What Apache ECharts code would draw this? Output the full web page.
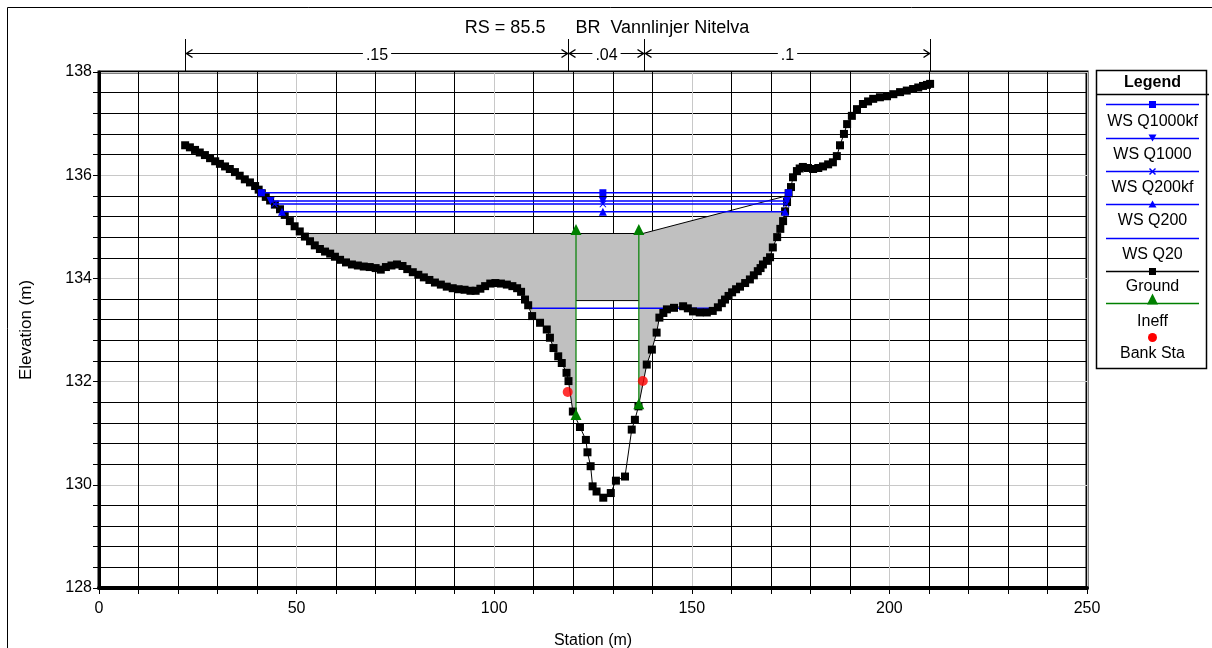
<!DOCTYPE html>
<html>
<head>
<meta charset="utf-8">
<script src="https://cdn.jsdelivr.net/npm/echarts@6.0.0/dist/echarts.min.js"></script>
<style>
  html, body { margin: 0; padding: 0; background: #fff; }
  #chart { width: 1212px; height: 648px; }
</style>
</head>
<body>
<div id="chart"></div>
<script>
// ---- Cross section data (station m, elevation m) ----
const groundStation = [
  21.8, 23.0, 24.3, 25.5, 26.8, 28.1, 29.4, 30.6, 31.9, 33.1, 34.4, 35.6, 36.9, 38.2, 39.5,
  40.4, 41.2, 42.2, 43.3, 44.5, 45.8, 47.0, 48.3, 49.5, 50.8, 52.1, 53.4, 54.6, 55.9, 57.2,
  58.5, 59.7, 61.0, 62.5, 64.0, 65.5, 67.0, 68.5, 70.0, 71.3, 72.6, 74.0, 75.4, 76.8, 78.0,
  79.4, 80.8, 82.2, 83.6, 85.0, 86.5, 88.0, 89.5, 91.0, 92.5, 94.0, 95.3, 96.5, 97.7, 99.0,
  100.3, 101.7, 103.2, 104.6, 105.8, 106.8, 107.8, 108.6, 109.6, 111.6, 113.3, 114.1, 115.0, 116.2, 117.1,
  118.3, 118.8, 119.9, 121.7, 123.2, 123.6, 124.4, 124.9, 125.9, 127.6, 129.5, 130.8, 133.1, 134.8, 135.6,
  136.5, 138.6, 139.9, 141.1, 141.8, 142.8, 143.7, 145.5, 147.8, 149.0, 150.3, 152.0, 153.8, 155.3, 156.6,
  157.6, 158.4, 159.3, 160.2, 161.2, 162.2, 163.5, 164.7, 165.7, 166.7, 167.4, 168.0, 169.0, 169.8, 170.5,
  171.6, 172.4, 173.1, 173.6, 174.1, 174.5, 175.1, 175.6, 176.6, 177.3, 178.1, 179.4, 180.7, 182.0, 183.2,
  184.5, 185.7, 186.7, 187.5, 188.5, 189.3, 190.5, 191.8, 193.3, 194.6, 195.9, 197.6, 199.4, 201.0, 202.7,
  204.4, 206.0, 207.3, 208.5, 209.5, 210.3
];
const groundElev = [
  136.58, 136.54, 136.49, 136.44, 136.39, 136.33, 136.27, 136.22, 136.17, 136.12, 136.06, 135.99, 135.92, 135.86, 135.79,
  135.72, 135.65, 135.58, 135.51, 135.43, 135.34, 135.23, 135.11, 135.01, 134.91, 134.81, 134.72, 134.64, 134.57, 134.52,
  134.48, 134.42, 134.36, 134.31, 134.27, 134.25, 134.23, 134.22, 134.20, 134.17, 134.22, 134.25, 134.27, 134.24, 134.18,
  134.12, 134.07, 134.02, 133.97, 133.92, 133.88, 133.84, 133.81, 133.79, 133.78, 133.76, 133.76, 133.80, 133.85, 133.90,
  133.91, 133.90, 133.88, 133.85, 133.81, 133.74, 133.59, 133.48, 133.27, 133.14, 133.01, 132.85, 132.65, 132.49, 132.36,
  132.17, 132.01, 131.42, 131.12, 130.87, 130.63, 130.36, 129.97, 129.87, 129.75, 129.84, 130.08, 130.16, 131.07, 131.26,
  131.52, 132.33, 132.62, 132.95, 133.24, 133.33, 133.40, 133.43, 133.46, 133.42, 133.36, 133.34, 133.34, 133.37, 133.44,
  133.52, 133.59, 133.66, 133.73, 133.79, 133.84, 133.91, 133.98, 134.06, 134.14, 134.20, 134.27, 134.34, 134.41, 134.60,
  134.80, 134.96, 135.11, 135.30, 135.48, 135.65, 135.77, 135.96, 136.08, 136.13, 136.16, 136.14, 136.12, 136.14, 136.17,
  136.21, 136.25, 136.37, 136.58, 136.80, 136.99, 137.15, 137.28, 137.38, 137.43, 137.48, 137.51, 137.53, 137.57, 137.61,
  137.64, 137.67, 137.70, 137.73, 137.75, 137.77
];

// Water surface profiles
const wsNames = ['WS Q1000kf', 'WS Q1000', 'WS Q200kf', 'WS Q200'];
const wsElev = [135.66, 135.50, 135.44, 135.29];
const wsLeftStation = [41.1, 43.4, 44.4, 46.3];
const wsRightStation = [174.5, 174.1, 173.9, 173.6];
const wsMidStation = 127.5;
const wsQ20Station = [109.5, 156.4];
const wsQ20Elev = 133.42;

// Bridge deck / low chord
const deckStation = [51.0, 137.6, 174.0];
const deckElev = [134.87, 134.87, 135.60];
const fillTopStation = [51.0, 137.6, 158.5, 173.3];
const fillTopElev = [134.87, 134.87, 135.29, 135.29];
const lowChordStation = [120.7, 136.6];
const lowChordElev = 133.57;

// Ineffective flow markers and bank stations
const ineffStation = [120.7, 136.6];
const ineffLowElev = [131.36, 131.57];
const ineffHighElev = 134.95;
const bankStation = [118.6, 137.6];
const bankElev = [131.80, 132.01];

// Manning's n regions
const nBreakStation = [21.8, 118.6, 137.9, 210.3];
const nValues = ['.15', '.04', '.1'];

const titleText = 'RS = 85.5      BR  Vannlinjer Nitelva';
const legendNames = ['WS Q1000kf', 'WS Q1000', 'WS Q200kf', 'WS Q200', 'WS Q20', 'Ground', 'Ineff', 'Bank Sta'];

// ---- helpers ----
const FONT = "'Liberation Sans', Arial, sans-serif";
const BLUE = '#0000ff';
const GREEN = '#008000';
const XPATH = 'path://M0,1L1,0L5,4L9,0L10,1L6,5L10,9L9,10L5,6L1,10L0,9L4,5Z';

const ground = groundStation.map((s, i) => [s, groundElev[i]]);
function groundAt(s) {
  for (let i = 1; i < groundStation.length; i++) {
    if (groundStation[i] >= s) {
      const s0 = groundStation[i - 1], s1 = groundStation[i];
      const t = (s - s0) / (s1 - s0);
      return groundElev[i - 1] + t * (groundElev[i] - groundElev[i - 1]);
    }
  }
  return groundElev[groundElev.length - 1];
}

// Bridge fill outline: deck top, down the right bank, under the low chord, down the left bank
const bridgePoly = [];
fillTopStation.forEach((s, i) => bridgePoly.push([s, fillTopElev[i]]));
const topRight = fillTopStation[fillTopStation.length - 1];
for (let i = ground.length - 1; i >= 0; i--) {
  if (ground[i][0] < topRight && ground[i][0] > lowChordStation[1]) bridgePoly.push(ground[i]);
}
bridgePoly.push([lowChordStation[1], groundAt(lowChordStation[1])]);
bridgePoly.push([lowChordStation[1], lowChordElev]);
bridgePoly.push([lowChordStation[0], lowChordElev]);
bridgePoly.push([lowChordStation[0], groundAt(lowChordStation[0])]);
for (let i = ground.length - 1; i >= 0; i--) {
  if (ground[i][0] < lowChordStation[0] && ground[i][0] > fillTopStation[0]) bridgePoly.push(ground[i]);
}

const wsSymbols = [
  { symbol: 'rect', size: 7, rotate: 0 },
  { symbol: 'triangle', size: 8, rotate: 180 },
  { symbol: XPATH, size: 7, rotate: 0 },
  { symbol: 'triangle', size: 8, rotate: 0 }
];

const series = [];
series.push({
  name: 'Bridge',
  type: 'custom',
  coordinateSystem: 'cartesian2d',
  data: [[0, 128]],
  z: 1,
  silent: true,
  renderItem: function (params, api) {
    return {
      type: 'polygon',
      shape: { points: bridgePoly.map(p => api.coord(p)) },
      style: { fill: '#c0c0c0', stroke: null }
    };
  }
});
series.push({
  name: 'Deck', type: 'line', z: 2, symbol: 'none', silent: true,
  data: deckStation.map((s, i) => [s, deckElev[i]]),
  lineStyle: { color: '#000', width: 1 }
});
series.push({
  name: 'Low chord', type: 'line', z: 2, symbol: 'none', silent: true,
  data: lowChordStation.map(s => [s, lowChordElev]),
  lineStyle: { color: '#000', width: 1 }
});
series.push({
  name: 'WS Q20', type: 'line', z: 3, symbol: 'none',
  data: wsQ20Station.map(s => [s, wsQ20Elev]),
  lineStyle: { color: BLUE, width: 1.5 }
});
series.push({
  name: 'Ground', type: 'line', z: 4, symbol: 'rect', symbolSize: 8, showAllSymbol: true,
  data: ground,
  itemStyle: { color: '#000' },
  lineStyle: { color: '#000', width: 1 }
});
wsNames.forEach((name, i) => {
  series.push({
    name: name, type: 'line', z: 5,
    symbol: wsSymbols[i].symbol, symbolSize: wsSymbols[i].size, symbolRotate: wsSymbols[i].rotate,
    showAllSymbol: true,
    data: [[wsLeftStation[i], wsElev[i]], [wsMidStation, wsElev[i]], [wsRightStation[i], wsElev[i]]],
    itemStyle: { color: BLUE },
    lineStyle: { color: BLUE, width: 1.5 }
  });
});
ineffStation.forEach((s, i) => {
  series.push({
    name: 'Ineff', type: 'line', z: 6, symbol: 'triangle', symbolSize: [11, 11],
    data: [[s, ineffLowElev[i]], [s, ineffHighElev]],
    itemStyle: { color: GREEN },
    lineStyle: { color: GREEN, width: 1.2 }
  });
});
series.push({
  name: 'Bank Sta', type: 'scatter', z: 7, symbol: 'circle', symbolSize: 10,
  data: bankStation.map((s, i) => [s, bankElev[i]]),
  itemStyle: { color: '#ff0000' }
});

const chart = echarts.init(document.getElementById('chart'), null, { renderer: 'canvas' });

chart.setOption({
  animation: false,
  backgroundColor: '#fff',
  grid: {
    left: 99, top: 72, width: 988, height: 516,
    outerBoundsMode: 'none', containLabel: false,
    show: true, borderColor: '#000', borderWidth: 3, backgroundColor: 'transparent'
  },
  xAxis: {
    type: 'value', min: 0, max: 250, interval: 10,
    name: 'Station (m)', nameLocation: 'middle', nameGap: 45,
    nameTextStyle: { fontFamily: FONT, fontSize: 16, color: '#000' },
    axisLine: { show: true, onZero: false, lineStyle: { color: '#000', width: 4 } },
    axisTick: { show: true, length: 6, lineStyle: { color: '#000', width: 1 } },
    axisLabel: {
      margin: 13, fontFamily: FONT, fontSize: 16, color: '#000',
      formatter: v => (Math.round(v) % 50 === 0 ? String(Math.round(v)) : '')
    },
    splitLine: { show: true, interval: 0, lineStyle: { color: ['#c8c8c8', '#000', '#000', '#000', '#000'], width: 1 } }
  },
  yAxis: {
    type: 'value', min: 128, max: 138, interval: 0.4,
    name: 'Elevation (m)', nameLocation: 'middle', nameGap: 64, nameRotate: 90,
    nameTextStyle: { fontFamily: FONT, fontSize: 17, color: '#000' },
    axisLine: { show: true, onZero: false, lineStyle: { color: '#000', width: 3 } },
    axisTick: { show: true, length: 6, lineStyle: { color: '#000', width: 1 } },
    axisLabel: {
      margin: 7, fontFamily: FONT, fontSize: 16, color: '#000',
      formatter: v => {
        const r = Math.round(v);
        return (Math.abs(v - r) < 1e-6 && r % 2 === 0) ? String(r) : '';
      }
    },
    splitLine: { show: true, interval: 0, lineStyle: { color: ['#c8c8c8', '#000', '#000', '#000', '#000'], width: 1 } }
  },
  series: series
});

// ---- Title, n-value annotation, outer frame and legend box ----
const xPix = s => chart.convertToPixel({ xAxisIndex: 0 }, s);
const g = [];
g.push({ type: 'rect', shape: { x: 7.5, y: 7.5, width: 1400, height: 800 }, style: { fill: null, stroke: '#000', lineWidth: 1 }, silent: true, z: 100 });
g.push({ type: 'text', x: 607, y: 28, style: { text: titleText, font: '18px ' + FONT, fill: '#000', align: 'center', verticalAlign: 'middle' }, z: 100 });

const arrowY = 53.5;
nBreakStation.forEach(s => {
  const x = Math.round(xPix(s)) + 0.5;
  g.push({ type: 'line', shape: { x1: x, y1: 39, x2: x, y2: 71 }, style: { stroke: '#000', lineWidth: 1 }, z: 100 });
});
nValues.forEach((v, i) => {
  const x0 = Math.round(xPix(nBreakStation[i])) + 0.5;
  const x1 = Math.round(xPix(nBreakStation[i + 1])) + 0.5;
  g.push({ type: 'line', shape: { x1: x0, y1: arrowY, x2: x1, y2: arrowY }, style: { stroke: '#000', lineWidth: 1 }, z: 100 });
  g.push({ type: 'polyline', shape: { points: [[x0 + 7, arrowY - 4], [x0 + 1, arrowY], [x0 + 7, arrowY + 4]] }, style: { stroke: '#000', lineWidth: 1.5, fill: null }, z: 101 });
  g.push({ type: 'polyline', shape: { points: [[x1 - 7, arrowY - 4], [x1 - 1, arrowY], [x1 - 7, arrowY + 4]] }, style: { stroke: '#000', lineWidth: 1.5, fill: null }, z: 101 });
  g.push({ type: 'text', x: (x0 + x1) / 2, y: arrowY + 2, style: { text: v, font: '16px ' + FONT, fill: '#000', align: 'center', verticalAlign: 'middle', backgroundColor: '#fff', padding: [0, 3] }, z: 102 });
});

// Legend
const lgLeft = 1096.5, lgTop = 70.5, lgW = 110, lgH = 298;
const lx0 = 1106, lx1 = 1199, lcx = 1152.5;
g.push({ type: 'rect', shape: { x: lgLeft, y: lgTop, width: lgW, height: lgH }, style: { fill: '#fff', stroke: '#000', lineWidth: 1.5 }, z: 100 });
g.push({ type: 'line', shape: { x1: lgLeft, y1: 94.5, x2: 1209, y2: 94.5 }, style: { stroke: '#000', lineWidth: 1.5 }, z: 101 });
g.push({ type: 'text', x: lcx, y: 83, style: { text: 'Legend', font: 'bold 16px ' + FONT, fill: '#000', align: 'center', verticalAlign: 'middle' }, z: 101 });
const lineYs = [104, 138, 171, 204, 238, 271, 303, 337];
const textYs = [122, 155, 188, 221, 255, 287, 322, 354];
const lgColors = [BLUE, BLUE, BLUE, BLUE, BLUE, '#000', GREEN, '#ff0000'];
legendNames.forEach((name, i) => {
  const y = lineYs[i] + 0.5;
  const c = lgColors[i];
  if (i < 7) g.push({ type: 'line', shape: { x1: lx0, y1: y, x2: lx1, y2: y }, style: { stroke: c, lineWidth: 1.5 }, z: 101 });
  if (i === 0 || i === 5) g.push({ type: 'rect', shape: { x: lcx - 3.5, y: y - 3.5, width: 7, height: 7 }, style: { fill: c }, z: 102 });
  if (i === 1) g.push({ type: 'polygon', shape: { points: [[lcx - 4, y - 4], [lcx + 4, y - 4], [lcx, y + 3]] }, style: { fill: c }, z: 102 });
  if (i === 2) g.push({ type: 'polyline', shape: { points: [[lcx - 3, y - 3], [lcx + 3, y + 3]] }, style: { stroke: c, lineWidth: 1.5 }, z: 102 });
  if (i === 2) g.push({ type: 'polyline', shape: { points: [[lcx + 3, y - 3], [lcx - 3, y + 3]] }, style: { stroke: c, lineWidth: 1.5 }, z: 102 });
  if (i === 3) g.push({ type: 'polygon', shape: { points: [[lcx - 4, y + 3], [lcx + 4, y + 3], [lcx, y - 4]] }, style: { fill: c }, z: 102 });
  if (i === 6) g.push({ type: 'polygon', shape: { points: [[lcx - 5.5, y + 1], [lcx + 5.5, y + 1], [lcx, y - 10]] }, style: { fill: c }, z: 102 });
  if (i === 7) g.push({ type: 'circle', shape: { cx: lcx, cy: y, r: 4.5 }, style: { fill: c }, z: 102 });
  g.push({ type: 'text', x: lcx, y: textYs[i], style: { text: name, font: '16px ' + FONT, fill: '#000', align: 'center', verticalAlign: 'middle' }, z: 102 });
});

chart.setOption({ graphic: { elements: g } });
</script>
</body>
</html>
